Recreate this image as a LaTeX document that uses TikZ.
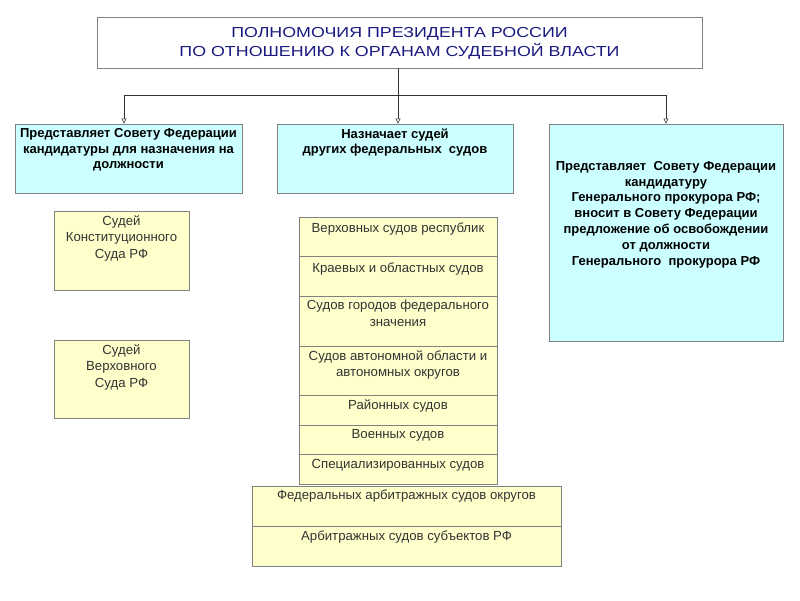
\documentclass[tikz,border=0pt]{standalone}
\usepackage{fontspec}
\setmainfont{Liberation Sans}
\newfontfamily\titlefont[FakeStretch=1.23]{Liberation Sans}
\usetikzlibrary{arrows.meta,fit}
\definecolor{cyanfill}{HTML}{CCFFFF}
\definecolor{yelfill}{HTML}{FFFFCC}
\definecolor{edgec}{HTML}{808080}
\definecolor{navyc}{HTML}{1A1A80}
\definecolor{txtc}{HTML}{333333}
\begin{document}
\begin{tikzpicture}[x=1pt,y=-1pt,
 box/.style={draw=edgec, line width=0.8pt, inner sep=0pt},
 cbox/.style={box, fill=cyanfill},
 ybox/.style={box, fill=yelfill},
 wbox/.style={box, fill=white},
 btxt/.style={anchor=north, align=center, font=\fontsize{13}{15.3}\selectfont\bfseries, inner sep=0pt},
 ytxt/.style={anchor=north, align=center, font=\fontsize{13.2}{16.5}\selectfont, text=txtc, inner sep=0pt},
 arr/.style={draw=black!80, line width=0.6pt, -{Triangle[open,length=5pt,width=5pt]}},
 ln/.style={draw=black!80, line width=0.6pt}]
\useasboundingbox[fill=white] (0,0) rectangle (800,600);
% title
\node[wbox, fit={(97,17) (702,68)}] (title) {};
\node[align=center, text=navyc, font=\titlefont\fontsize{14.5}{19}\selectfont, inner sep=0pt] (titletxt) at (399.5,43) {ПОЛНОМОЧИЯ ПРЕЗИДЕНТА РОССИИ\\ПО ОТНОШЕНИЮ К ОРГАНАМ СУДЕБНОЙ ВЛАСТИ};
% top boxes
\node[cbox, fit={(15,124) (242,193)}] (b1) {};
\node[cbox, fit={(277,124) (513,193)}] (b2) {};
\node[cbox, fit={(549,124) (783,341)}] (b3) {};
\node[btxt] (t1) at (128.5,128.5) {Представляет Совету Федерации\\кандидатуры для назначения на\\должности};
\node[btxt] (t2) at (395,128.5) {Назначает судей\\других федеральных\ \ судов};
\node[btxt, font=\fontsize{13}{15.8}\selectfont\bfseries] (t3) at (666,161) {Представляет\ \ Совету Федерации\\кандидатуру\\Генерального прокурора РФ;\\вносит в Совету Федерации\\предложение об освобождении\\от должности\\Генерального\ \ прокурора РФ};
% connectors
\coordinate (j) at (398,95);
\coordinate (jl) at (124,95);
\coordinate (jr) at (666,95);
\draw[ln] (title.south -| j) -- (j);
\draw[ln] (jl) -- (jr);
\draw[arr] (jl) -- (jl |- b1.north);
\draw[arr] (j) -- (j |- b2.north);
\draw[arr] (jr) -- (jr |- b3.north);
% left yellow boxes
\node[ybox, fit={(54,211) (189,290)}] (y1) {};
\node[ytxt] (y1t) at (y1.north) [yshift=-4.5pt] {Судей\\Конституционного\\Суда РФ};
\node[ybox, fit={(54,340) (189,418)}] (y2) {};
\node[ytxt] (y2t) at (y2.north) [yshift=-4.5pt] {Судей\\Верховного\\Суда РФ};
% center stack
\node[ybox, fit={(299,217) (497,256)}] (r1) {};
\node[ybox, fit={(299,256) (497,296)}] (r2) {};
\node[ybox, fit={(299,296) (497,346)}] (r3) {};
\node[ybox, fit={(299,346) (497,395)}] (r4) {};
\node[ybox, fit={(299,395) (497,425)}] (r5) {};
\node[ybox, fit={(299,425) (497,454)}] (r6) {};
\node[ybox, fit={(299,454) (497,484)}] (r7) {};
\node[ytxt] (r1t) at (r1.north) [yshift=-6.5pt] {Верховных судов республик};
\node[ytxt] (r2t) at (r2.north) [yshift=-7pt] {Краевых и областных судов};
\node[ytxt] (r3t) at (r3.north) [yshift=-4.5pt] {Судов городов федерального\\значения};
\node[ytxt] (r4t) at (r4.north) [yshift=-4.5pt] {Судов автономной области и\\автономных округов};
\node[ytxt] (r5t) at (r5.north) [yshift=-5pt] {Районных судов};
\node[ytxt] (r6t) at (r6.north) [yshift=-4.5pt] {Военных судов};
\node[ytxt] (r7t) at (r7.north) [yshift=-5pt] {Специализированных судов};
% bottom stack
\node[ybox, fit={(252,486) (561,526)}] (s1) {};
\node[ybox, fit={(252,526) (561,566)}] (s2) {};
\node[ytxt] (s1t) at (s1.north) [yshift=-4.5pt] {Федеральных арбитражных судов округов};
\node[ytxt] (s2t) at (s2.north) [yshift=-5.5pt] {Арбитражных судов субъектов РФ};
\end{tikzpicture}
\end{document}
